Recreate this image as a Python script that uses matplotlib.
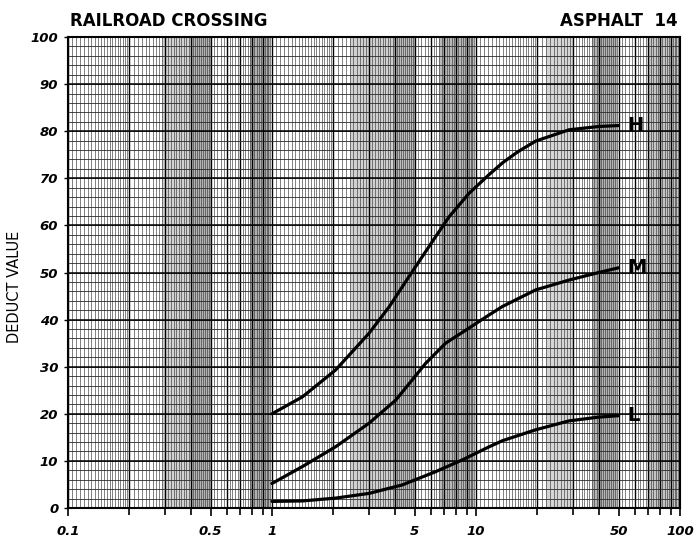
import numpy as np
import matplotlib
matplotlib.use("Agg")
import matplotlib.pyplot as plt
from matplotlib.ticker import FixedLocator, NullFormatter

# ---- data ----
h_x = [1, 1.41, 2.05, 2.99, 3.75, 4.69, 5.88, 7.37, 9.24, 11.6, 13.5, 16.0, 19.6, 28.6, 40, 50]
h_y = [20, 23.6, 29.3, 37.1, 42.7, 49.1, 55.5, 61.8, 66.8, 70.8, 73.3, 75.6, 77.9, 80.3, 81.0, 81.2]

m_x = [1, 1.41, 2.05, 2.99, 4.04, 4.87, 5.66, 7.1, 9.24, 11.6, 13.5, 19.6, 28.6, 40, 50]
m_y = [5.2, 8.8, 13.0, 18.0, 22.9, 27.2, 30.7, 35.0, 38.2, 41.0, 42.8, 46.3, 48.4, 50.0, 51.0]

l_x = [1, 1.41, 2.05, 2.99, 4.35, 6.33, 8.56, 11.6, 13.5, 19.6, 28.6, 40, 50]
l_y = [1.4, 1.5, 2.1, 3.1, 4.9, 7.7, 10.2, 13.0, 14.3, 16.6, 18.5, 19.3, 19.6]

curve_names = ["H", "M", "L"]
x_tick_vals = [0.1, 0.5, 1, 5, 10, 50, 100]
x_tick_labels = ["0.1", "0.5", "1", "5", "10", "50", "100"]
y_tick_vals = list(range(0, 101, 10))

fig = plt.figure(figsize=(6.96, 5.38), dpi=100)
ax = fig.add_axes([68/696, 30/538, 612/696, 471/538])
ax.set_xscale("log")
ax.set_xlim(0.1, 100)
ax.set_ylim(0, 100)

# ---- paper shading (scan bands) ----
bands = [(0.29, 0.40, "#d2d2d2"), (0.40, 0.50, "#b4b4b4"), (0.78, 0.98, "#b0b0b0"),
         (2.4, 3.9, "#d0d0d0"), (3.9, 5.1, "#bcbcbc"), (6.6, 9.8, "#b8b8b8"),
         (22, 30, "#d6d6d6"), (37, 49, "#b4b4b4"), (70, 98, "#c4c4c4")]
for a, b, c in bands:
    ax.axvspan(a, b, color=c, lw=0, zorder=0)

# ---- graph-paper grid ----
fine = []
for dec in [0.1, 1, 10]:
    fine += list(np.arange(1, 2, 0.05) * dec)
    fine += list(np.arange(2, 5, 0.1) * dec)
    fine += list(np.arange(5, 10, 0.2) * dec)
majors = [k * d for d in [0.1, 1, 10] for k in range(1, 10)] + [100]
ax.vlines(fine, 0, 100, colors="#3a3a3a", lw=0.45, zorder=1)
ax.vlines(majors, 0, 100, colors="black", lw=1.0, zorder=1)
ax.hlines(np.arange(0, 101, 2), 0.1, 100, colors="#2a2a2a", lw=0.6, zorder=1)
ax.hlines(np.arange(0, 101, 10), 0.1, 100, colors="black", lw=1.1, zorder=1)

# ---- curves ----
for xs, ys, name in [(h_x, h_y, "H"), (m_x, m_y, "M"), (l_x, l_y, "L")]:
    ax.plot(xs, ys, color="black", lw=2.3, zorder=3, solid_capstyle="round",
            solid_joinstyle="round")
    ax.text(xs[-1] * 1.1, ys[-1], name, fontsize=14, fontweight="bold",
            ha="left", va="center", zorder=4)

# ---- axes styling ----
for s in ax.spines.values():
    s.set_linewidth(1.5)
    s.set_zorder(5)

ax.xaxis.set_major_locator(FixedLocator(x_tick_vals))
ax.set_xticklabels(x_tick_labels)
minor = [k * d for d in [0.1, 1, 10] for k in range(2, 10) if k != 5]
ax.xaxis.set_minor_locator(FixedLocator(minor))
ax.xaxis.set_minor_formatter(NullFormatter())
ax.tick_params(axis="x", which="major", direction="out", length=6, width=1.2, pad=6)
ax.tick_params(axis="x", which="minor", direction="out", length=5, width=1.2)
ax.set_yticks(y_tick_vals)
ax.tick_params(axis="y", which="major", direction="out", length=3, width=1.0, pad=4)
ax.tick_params(axis="y", which="minor", left=False)

for lab in ax.get_xticklabels() + ax.get_yticklabels():
    lab.set_fontweight("bold")
    lab.set_fontstyle("italic")
    lab.set_fontsize(9.5)

ax.set_ylabel("DEDUCT VALUE", fontsize=10.5)
ax.yaxis.set_label_coords(-0.075, 0.47)

fig.text(70/696, 1 - 26/538, "RAILROAD CROSSING", fontsize=12, fontweight="bold",
         ha="left", va="baseline")
fig.text(678/696, 1 - 26/538, "ASPHALT  14", fontsize=12, fontweight="bold",
         ha="right", va="baseline")

fig.savefig("out.png", dpi=100)
